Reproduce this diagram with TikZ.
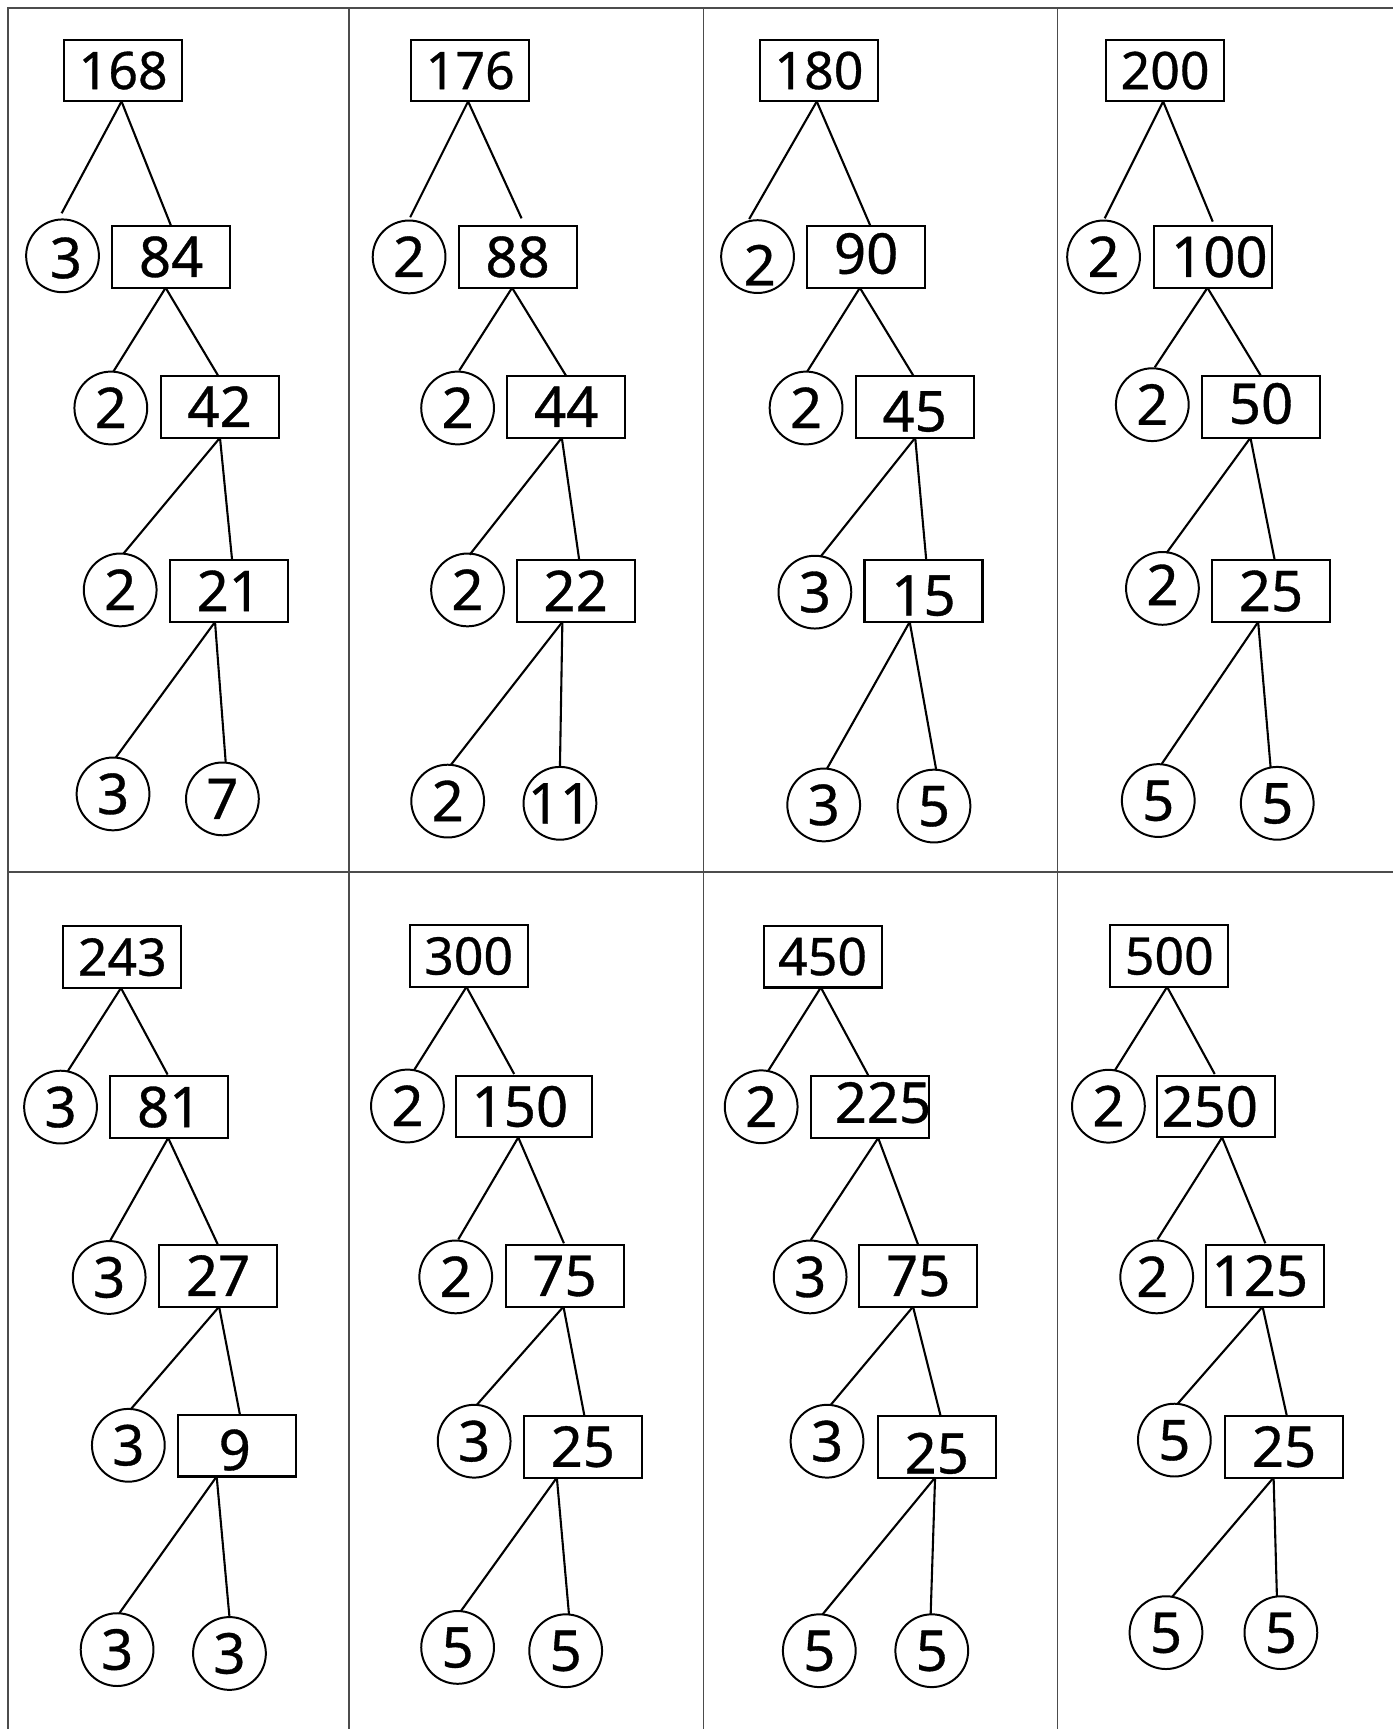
\documentclass[tikz,border=0pt]{standalone}
\usepackage{fontspec}
\setmainfont{Noto Sans}
\newfontfamily\digitfont{Noto Sans}[FakeBold=0.6]
\usetikzlibrary{calc}
\newcommand\rootfont{\digitfont\fontsize{23.5}{28}\selectfont}
\newcommand\numfont{\digitfont\fontsize{25.5}{30}\selectfont}
\newcommand\numtx[1]{\makebox[0pt]{#1}}
\newcommand\shtx[3]{\raisebox{#2}{\makebox[0pt]{\hspace*{#1}\hspace*{#1}#3}}}
\newcommand\lk[5]{\draw[conn] ($(#1.south)+(#2,0)$) -- ($(#3.north)+(#4,#5)$);}
\tikzset{
  numbox/.style={draw, line width=0.95pt, rectangle, minimum width=53.5pt, minimum height=28pt,
    inner sep=0pt, outer sep=0pt, font=\numfont, text height=18.2pt, text depth=0pt},
  rootbox/.style={numbox, font=\rootfont, text height=16.8pt},
  circ/.style={draw, circle, line width=0.9pt, minimum size=33pt, inner sep=0pt, outer sep=0pt,
    font=\numfont, text height=18.2pt, text depth=0pt},
  conn/.style={line width=0.95pt, black},
  grid/.style={line width=0.85pt, black!70}
}
\begin{document}
\begin{tikzpicture}[x=0.5pt, y=-0.5pt]
\useasboundingbox (0,0) rectangle (1263,1568);
% grid
\draw[grid] (7.6,1568) -- (7.6,7.6) -- (1263,7.6);
\draw[grid] (316.5,7.6) -- (316.5,1568);
\draw[grid] (638,7.6) -- (638,1568);
\draw[grid] (959,7.6) -- (959,1568);
\draw[grid] (7.6,790.5) -- (1263,790.5);

% ---------- panel 1 ----------
\node[rootbox] (p1r) at (111.7,64) {\numtx{168}};
\node[circ] (p1a1) at (56.7,232) {\shtx{1.5pt}{-1pt}{3}};
\node[numbox] (p1b1) at (155.2,233) {\numtx{84}};
\node[circ] (p1a2) at (100.5,370) {\numtx{2}};
\node[numbox] (p1b2) at (199.2,369) {\numtx{42}};
\node[circ] (p1a3) at (109,535) {\numtx{2}};
\node[numbox] (p1b3) at (207.5,536) {\numtx{21}};
\node[circ] (p1c1) at (102.5,720) {\numtx{3}};
\node[circ] (p1c2) at (201.7,724.5) {\numtx{7}};
\lk{p1r}{-1.5}{p1a1}{-0.8}{-5.6}
\lk{p1r}{-1.5}{p1b1}{0}{0}
\lk{p1b1}{-5}{p1a2}{2.3}{0}
\lk{p1b1}{-5}{p1b2}{-1.2}{0}
\lk{p1b2}{0.3}{p1a3}{3}{0}
\lk{p1b2}{0.3}{p1b3}{3}{0}
\lk{p1b3}{-12.5}{p1c1}{2.5}{0}
\lk{p1b3}{-12.5}{p1c2}{3}{0}

% ---------- panel 2 ----------
\node[rootbox] (p2r) at (426.5,64) {\numtx{176}};
\node[circ] (p2a1) at (371,233) {\numtx{2}};
\node[numbox] (p2b1) at (469.4,233) {\numtx{88}};
\node[circ] (p2a2) at (415,370) {\numtx{2}};
\node[numbox] (p2b2) at (513.5,369) {\numtx{44}};
\node[circ] (p2a3) at (424,535) {\numtx{2}};
\node[numbox] (p2b3) at (522,536) {\numtx{22}};
\node[circ] (p2c1) at (406,726.5) {\numtx{2}};
\node[circ] (p2c2) at (507.8,728.5) {\numtx{11}};
\lk{p2r}{-2}{p2a1}{1}{-3}
\lk{p2r}{-2}{p2b1}{3.6}{-7}
\lk{p2b1}{-5}{p2a2}{1.5}{-1}
\lk{p2b1}{-5}{p2b2}{0}{0}
\lk{p2b2}{-4}{p2a3}{2}{1}
\lk{p2b2}{-4}{p2b3}{3.3}{0}
\lk{p2b3}{-12}{p2c1}{3}{0}
\lk{p2b3}{-12}{p2c2}{0}{0}

% ---------- panel 3 ----------
\node[rootbox] (p3r) at (742.7,64) {\numtx{180}};
\node[circ] (p3a1) at (687,232.7) {\shtx{1pt}{-4pt}{2}};
\node[numbox] (p3b1) at (785.5,233) {\shtx{0pt}{1.5pt}{90}};
\node[circ] (p3a2) at (731,370) {\numtx{2}};
\node[numbox] (p3b2) at (829.5,369) {\shtx{0pt}{-2pt}{45}};
\node[circ] (p3a3) at (739,537) {\numtx{3}};
\node[numbox] (p3b3) at (837.5,536) {\shtx{0pt}{-2pt}{15}};
\node[circ] (p3c1) at (747,730) {\numtx{3}};
\node[circ] (p3c2) at (847,731) {\numtx{5}};
\lk{p3r}{-2}{p3a1}{-7.6}{-1}
\lk{p3r}{-2}{p3b1}{3.9}{0}
\lk{p3b1}{-5.7}{p3a2}{1}{0}
\lk{p3b1}{-5.7}{p3b2}{-1}{0}
\lk{p3b2}{0.5}{p3a3}{5}{1}
\lk{p3b2}{0.5}{p3b3}{2.5}{0}
\lk{p3b3}{-12.5}{p3c1}{3}{0}
\lk{p3b3}{-12.5}{p3c2}{2}{0}

% ---------- panel 4 ----------
\node[rootbox] (p4r) at (1056.6,64) {\numtx{200}};
\node[circ] (p4a1) at (1000.8,233) {\numtx{2}};
\node[numbox] (p4b1) at (1099.8,233) {\shtx{3pt}{0pt}{100}};
\node[circ] (p4a2) at (1045,367) {\numtx{2}};
\node[numbox] (p4b2) at (1143.6,369) {\shtx{0pt}{1.5pt}{50}};
\node[circ] (p4a3) at (1054.2,533.6) {\shtx{0pt}{1.5pt}{2}};
\node[numbox] (p4b3) at (1152.6,536) {\numtx{25}};
\node[circ] (p4c1) at (1050.4,726) {\numtx{5}};
\node[circ] (p4c2) at (1158.3,728.5) {\numtx{5}};
\lk{p4r}{-1.8}{p4a1}{1}{-2}
\lk{p4r}{-1.8}{p4b1}{0}{-4}
\lk{p4b1}{-4.8}{p4a2}{2.3}{-1}
\lk{p4b1}{-4.8}{p4b2}{0}{0}
\lk{p4b2}{-9.6}{p4a3}{3.6}{1}
\lk{p4b2}{-9.6}{p4b3}{3.4}{0}
\lk{p4b3}{-11.6}{p4c1}{3}{0}
\lk{p4b3}{-11.6}{p4c2}{-6}{0.5}

% ---------- panel 5 ----------
\node[rootbox] (p5r) at (110.9,868) {\numtx{243}};
\node[circ] (p5a1) at (54.9,1004) {\numtx{3}};
\node[numbox] (p5b1) at (153.5,1004) {\numtx{81}};
\node[circ] (p5a2) at (99,1158.5) {\numtx{3}};
\node[numbox] (p5b2) at (197.7,1157) {\numtx{27}};
\node[circ] (p5a3) at (116.4,1310.7) {\numtx{3}};
\node[numbox] (p5b3) at (214.9,1311) {\shtx{-1pt}{-2pt}{9}};
\node[circ] (p5c1) at (106.2,1496) {\numtx{3}};
\node[circ] (p5c2) at (208.1,1499.5) {\numtx{3}};
\lk{p5r}{-1.2}{p5a1}{6.5}{0.5}
\lk{p5r}{-1.2}{p5b1}{-1.5}{-1.5}
\lk{p5b1}{-1}{p5a2}{0.7}{0}
\lk{p5b1}{-1}{p5b2}{0}{0}
\lk{p5b2}{1}{p5a3}{2}{0.5}
\lk{p5b2}{1}{p5b3}{2.7}{0}
\lk{p5b3}{-18.4}{p5c1}{2}{0}
\lk{p5b3}{-18.4}{p5c2}{0}{0}

% ---------- panel 6 ----------
\node[rootbox] (p6r) at (425,867) {\numtx{300}};
\node[circ] (p6a1) at (369.5,1003) {\numtx{2}};
\node[numbox, minimum width=61.5pt] (p6b1) at (475,1003.5) {\shtx{-1.75pt}{0pt}{150}};
\node[circ] (p6a2) at (413.3,1158) {\numtx{2}};
\node[numbox] (p6b2) at (512,1157) {\numtx{75}};
\node[circ] (p6a3) at (430,1307) {\numtx{3}};
\node[numbox] (p6b3) at (528.5,1312) {\numtx{25}};
\node[circ] (p6c1) at (415,1494) {\numtx{5}};
\node[circ] (p6c2) at (513,1497) {\numtx{5}};
\lk{p6r}{-2}{p6a1}{6}{0.5}
\lk{p6r}{-2}{p6b1}{-8.7}{-1.5}
\lk{p6b1}{-5}{p6a2}{2.3}{-1}
\lk{p6b1}{-5}{p6b2}{-0.6}{-1.5}
\lk{p6b2}{-1}{p6a3}{2}{0.5}
\lk{p6b2}{-1}{p6b3}{1.5}{0}
\lk{p6b3}{-23.5}{p6c1}{3}{0}
\lk{p6b3}{-23.5}{p6c2}{3}{0}

% ---------- panel 7 ----------
\node[rootbox] (p7r) at (746,867.5) {\numtx{450}};
\node[circ] (p7a1) at (690.3,1003.7) {\numtx{2}};
\node[numbox] (p7b1) at (788.8,1004) {\shtx{6pt}{2pt}{225}};
\node[circ] (p7a2) at (734.7,1158) {\numtx{3}};
\node[numbox] (p7b2) at (832.7,1157) {\numtx{75}};
\node[circ] (p7a3) at (750,1307) {\numtx{3}};
\node[numbox] (p7b3) at (849.5,1312) {\shtx{0pt}{-3pt}{25}};
\node[circ] (p7c1) at (743,1497) {\numtx{5}};
\node[circ] (p7c2) at (845,1497) {\numtx{5}};
\lk{p7r}{-1.6}{p7a1}{6.3}{0.5}
\lk{p7r}{-1.6}{p7b1}{-1.5}{-1}
\lk{p7b1}{7.6}{p7a2}{0.6}{-0.5}
\lk{p7b1}{7.6}{p7b2}{0}{0}
\lk{p7b2}{-4.7}{p7a3}{3}{0.5}
\lk{p7b2}{-4.7}{p7b3}{3.5}{0}
\lk{p7b3}{-1.5}{p7c1}{3}{0}
\lk{p7b3}{-1.5}{p7c2}{-1}{0}

% ---------- panel 8 ----------
\node[rootbox] (p8r) at (1060.4,867) {\numtx{500}};
\node[circ] (p8a1) at (1005.2,1003.2) {\numtx{2}};
\node[numbox] (p8b1) at (1103.1,1003.5) {\shtx{-3pt}{0pt}{250}};
\node[circ] (p8a2) at (1049,1158) {\shtx{-2pt}{0pt}{2}};
\node[numbox] (p8b2) at (1147.5,1157) {\shtx{-2.5pt}{0pt}{125}};
\node[circ] (p8a3) at (1065,1306) {\numtx{5}};
\node[numbox] (p8b3) at (1164.5,1312) {\numtx{25}};
\node[circ] (p8c1) at (1057.4,1480.6) {\numtx{5}};
\node[circ] (p8c2) at (1161.6,1480.6) {\numtx{5}};
\lk{p8r}{-2}{p8a1}{5.8}{0.6}
\lk{p8r}{-2}{p8b1}{-1.5}{-1.5}
\lk{p8b1}{5.2}{p8a2}{0.7}{-1}
\lk{p8b1}{5.2}{p8b2}{0}{-1.5}
\lk{p8b2}{-2.5}{p8a3}{3}{0}
\lk{p8b2}{-2.5}{p8b3}{2.5}{0}
\lk{p8b3}{-9.5}{p8c1}{5.6}{0.5}
\lk{p8b3}{-9.5}{p8c2}{-3.6}{0}
\end{tikzpicture}
\end{document}
